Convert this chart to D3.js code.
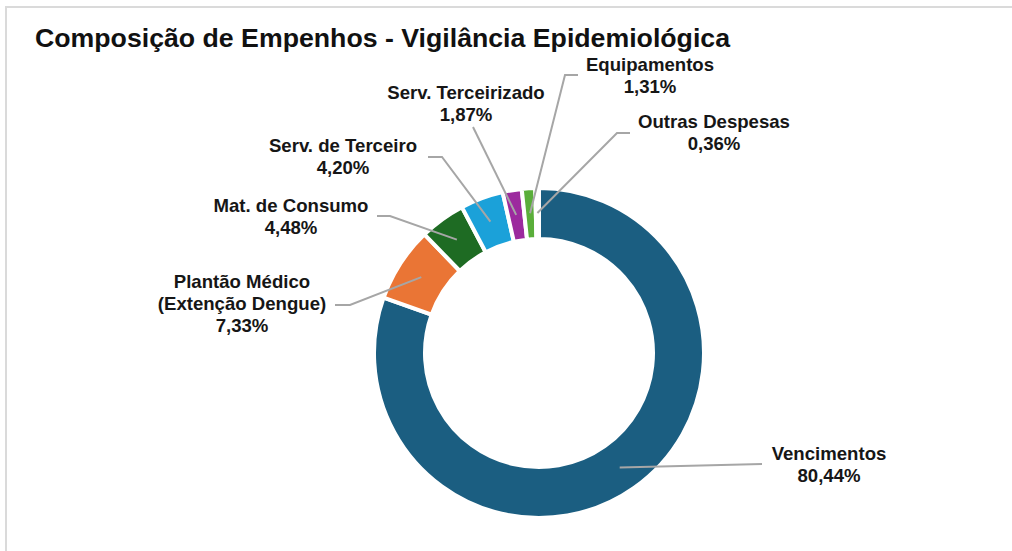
<!DOCTYPE html>
<html>
<head>
<meta charset="utf-8">
<script src="https://cdn.jsdelivr.net/npm/d3@7"></script>
<style>
  body { margin: 0; background: #fff; }
  svg { display: block; font-family: "Liberation Sans", Arial, sans-serif; }
</style>
</head>
<body>
<svg id="chart" width="1012" height="551"></svg>
<script>
// Data
const categories = ["Vencimentos", "Plantão Médico|(Extenção Dengue)", "Mat. de Consumo", "Serv. de Terceiro",
                    "Serv. Terceirizado", "Equipamentos", "Outras Despesas"];
const values = [80.44, 7.33, 4.48, 4.20, 1.87, 1.31, 0.36];
const valueLabels = ["80,44%", "7,33%", "4,48%", "4,20%", "1,87%", "1,31%", "0,36%"];
const colors = ["#1b5e81", "#ea7535", "#1e6b23", "#1ba1d9", "#9c2a9e", "#5aae3a", "#a5a5a5"];

// label placement (centre x, first baseline y) and leader elbow points
const labelPos = [
    { x: 829, y: 460, elbow: [[762, 464]] },
    { x: 242, y: 288, elbow: [[350, 305], [335, 305]] },
    { x: 291, y: 212, elbow: [[390, 216], [377, 216]] },
    { x: 343, y: 152, elbow: [[442, 157], [428, 157]] },
    { x: 466, y: 99, elbow: [[473, 127]] },
    { x: 650, y: 71, elbow: [[565, 75], [578, 75]] },
    { x: 714, y: 128, elbow: [[617, 133], [630, 133]] }
];

const svg = d3.select("#chart");

// light frame
svg.append("rect")
    .attr("x", 6).attr("y", 7)
    .attr("width", 1020).attr("height", 560)
    .attr("fill", "none")
    .attr("stroke", "#dadada")
    .attr("stroke-width", 2);

// title
svg.append("text")
    .attr("x", 35).attr("y", 47)
    .attr("font-size", "26.7px")
    .attr("font-weight", "bold")
    .attr("fill", "#111")
    .text("Composição de Empenhos - Vigilância Epidemiológica");

const cx = 539, cy = 353;
const outerR = 165, innerR = 114;

const pie = d3.pie().sort(null).value(d => d);
const arcs = pie(values);
const arc = d3.arc().innerRadius(innerR).outerRadius(outerR);
const midArc = d3.arc().innerRadius(140).outerRadius(140);

const g = svg.append("g").attr("transform", `translate(${cx},${cy})`);

g.selectAll("path.slice")
    .data(arcs)
    .enter()
    .append("path")
    .attr("class", "slice")
    .attr("d", arc)
    .attr("fill", (d, i) => colors[i])
    .attr("stroke", "#fff")
    .attr("stroke-width", 4);

// leader lines
const line = d3.line();
arcs.forEach((d, i) => {
    const c = midArc.centroid(d);
    const pts = [[c[0] + cx, c[1] + cy]].concat(labelPos[i].elbow);
    svg.append("path")
        .attr("d", line(pts))
        .attr("fill", "none")
        .attr("stroke", "#a6a6a6")
        .attr("stroke-width", 2);
});

// labels
arcs.forEach((d, i) => {
    const lines = categories[i].split("|").concat([valueLabels[i]]);
    const t = svg.append("text")
        .attr("x", labelPos[i].x)
        .attr("y", labelPos[i].y)
        .attr("text-anchor", "middle")
        .attr("font-size", "18.6px")
        .attr("font-weight", "bold")
        .attr("fill", "#161616");
    lines.forEach((s, j) => {
        t.append("tspan")
            .attr("x", labelPos[i].x)
            .attr("dy", j === 0 ? 0 : 22)
            .text(s);
    });
});
</script>
</body>
</html>
